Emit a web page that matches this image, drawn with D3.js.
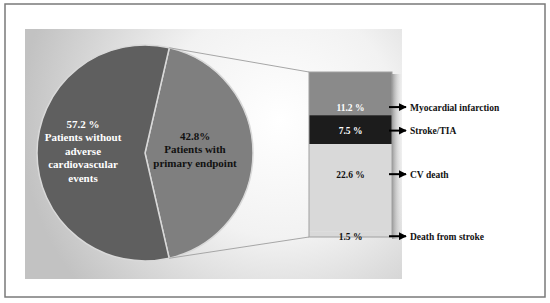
<!DOCTYPE html>
<html>
<head>
<meta charset="utf-8">
<script src="https://cdn.jsdelivr.net/npm/d3@7"></script>
<style>
  body { margin: 0; background: #fff; }
  text { font-family: "Liberation Serif", "DejaVu Serif", serif; font-weight: bold; }
</style>
</head>
<body>
<svg width="550" height="303"></svg>
<script>
// pie slices (right slice first, clockwise from the top)
var pieNames = ["Patients with primary endpoint", "Patients without adverse cardiovascular events"];
var pieValues = [42.8, 57.2];
var pieLines = [["42.8%", "Patients with", "primary endpoint"],
                ["57.2 %", "Patients without", "adverse", "cardiovascular", "events"]];

// breakdown of the primary endpoint (top to bottom)
var barNames = ["Myocardial infarction", "Stroke/TIA", "CV death", "Death from stroke"];
var barValues = [11.2, 7.5, 22.6, 1.5];
var barLabels = ["11.2 %", "7.5 %", "22.6 %", "1.5 %"];
// where each arrow points, in % along the stacked bar
var arrowAt = [9.1, 15.2, 26.5, 42.6];

var svg = d3.select("svg");

// **** frame and background ****
svg.append("rect")
    .attr("x", 5).attr("y", 4).attr("width", 540).attr("height", 293)
    .attr("fill", "#fff").attr("stroke", "#7a7a7a").attr("stroke-width", 1.5);

var defs = svg.append("defs");
var grad = defs.append("radialGradient").attr("id", "bg")
    .attr("gradientUnits", "userSpaceOnUse")
    .attr("cx", 280).attr("cy", 120).attr("r", 260);
grad.append("stop").attr("offset", "0%").attr("stop-color", "#ffffff");
grad.append("stop").attr("offset", "45%").attr("stop-color", "#f2f2f2");
grad.append("stop").attr("offset", "100%").attr("stop-color", "#c2c2c2");

var shadow = defs.append("linearGradient").attr("id", "sh");
shadow.append("stop").attr("offset", "0%").attr("stop-color", "#9a9a9a");
shadow.append("stop").attr("offset", "100%").attr("stop-color", "#d8d8d8").attr("stop-opacity", 0);

svg.append("rect")
    .attr("x", 25).attr("y", 29).attr("width", 377).attr("height", 250)
    .attr("fill", "url(#bg)");

// **** pie ****
var cx = 145, cy = 153, r = 108;
var pieColors = ["#7f7f7f", "#5f5f5f"];
var start = 13 * Math.PI / 180;

var pie = d3.pie().sort(null)
    .startAngle(start).endAngle(start + 2 * Math.PI);
var arcs = pie(pieValues);
var arc = d3.arc().innerRadius(0).outerRadius(r);

var pg = svg.append("g").attr("transform", "translate(" + cx + "," + cy + ")");
pg.selectAll("path")
    .data(arcs)
    .enter()
    .append("path")
    .attr("d", arc)
    .attr("fill", function(d, i) { return pieColors[i]; })
    .attr("stroke", "#d9d9d9")
    .attr("stroke-width", 1.5)
    .attr("stroke-linejoin", "miter");

var labelPos = [[50, -13], [-62, -25]];
var labelColor = ["#111", "#fff"];
pg.selectAll("text.pl")
    .data(arcs)
    .enter()
    .append("text")
    .attr("class", "pl")
    .attr("text-anchor", "middle")
    .attr("font-size", 11)
    .attr("fill", function(d, i) { return labelColor[i]; })
    .each(function(d, i) {
        var t = d3.select(this);
        pieLines[i].forEach(function(line, k) {
            t.append("tspan")
                .attr("x", labelPos[i][0])
                .attr("y", labelPos[i][1] + k * 13.4)
                .text(line);
        });
    });

// **** stacked bar ****
var bx = 309, bw = 83;
var total = d3.sum(barValues);
var yScale = d3.scaleLinear().domain([0, total]).range([72, 237]);
var barColors = ["#8a8a8a", "#1c1c1c", "#d9d9d9", "#d9d9d9"];
var textColors = ["#fff", "#fff", "#111", "#111"];

var cum = 0;
var segs = barValues.map(function(v) {
    var s = { y0: cum, y1: cum + v };
    cum += v;
    return s;
});

// connector lines from pie to bar
var topPt = [cx + r * Math.sin(arcs[0].startAngle), cy - r * Math.cos(arcs[0].startAngle)];
var botPt = [cx + r * Math.sin(arcs[0].endAngle), cy - r * Math.cos(arcs[0].endAngle)];
svg.append("line")
    .attr("x1", topPt[0]).attr("y1", topPt[1])
    .attr("x2", bx).attr("y2", yScale(0))
    .attr("stroke", "#a6a6a6").attr("stroke-width", 1);
svg.append("line")
    .attr("x1", botPt[0]).attr("y1", botPt[1])
    .attr("x2", bx).attr("y2", yScale(total))
    .attr("stroke", "#a6a6a6").attr("stroke-width", 1);

// bar shadow
svg.append("rect")
    .attr("x", bx + bw).attr("y", yScale(0) + 2)
    .attr("width", 10).attr("height", yScale(total) - yScale(0))
    .attr("fill", "url(#sh)");

svg.selectAll("rect.seg")
    .data(segs)
    .enter()
    .append("rect")
    .attr("class", "seg")
    .attr("x", bx)
    .attr("y", function(d) { return yScale(d.y0); })
    .attr("width", bw)
    .attr("height", function(d) { return yScale(d.y1) - yScale(d.y0); })
    .attr("fill", function(d, i) { return barColors[i]; });

svg.append("rect")
    .attr("x", bx).attr("y", yScale(0))
    .attr("width", bw).attr("height", yScale(total) - yScale(0))
    .attr("fill", "none").attr("stroke", "#a0a0a0").attr("stroke-width", 1);

svg.selectAll("text.bl")
    .data(barLabels)
    .enter()
    .append("text")
    .attr("class", "bl")
    .attr("x", bx + bw / 2)
    .attr("y", function(d, i) { return yScale(arrowAt[i]) + 3.5; })
    .attr("text-anchor", "middle")
    .attr("font-size", 9.5)
    .attr("fill", function(d, i) { return textColors[i]; })
    .text(function(d) { return d; });

// arrows and category names
defs.append("marker").attr("id", "arr")
    .attr("viewBox", "0 0 10 10").attr("refX", 9).attr("refY", 5)
    .attr("markerWidth", 4).attr("markerHeight", 4)
    .attr("markerUnits", "strokeWidth")
    .attr("orient", "auto")
    .append("path").attr("d", "M0,0 L10,5 L0,10 Z").attr("fill", "#000");

svg.selectAll("line.ar")
    .data(barNames)
    .enter()
    .append("line")
    .attr("class", "ar")
    .attr("x1", 389).attr("x2", 406)
    .attr("y1", function(d, i) { return yScale(arrowAt[i]); })
    .attr("y2", function(d, i) { return yScale(arrowAt[i]); })
    .attr("stroke", "#000").attr("stroke-width", 2)
    .attr("marker-end", "url(#arr)");

svg.selectAll("text.cat")
    .data(barNames)
    .enter()
    .append("text")
    .attr("class", "cat")
    .attr("x", 410)
    .attr("y", function(d, i) { return yScale(arrowAt[i]) + 3.5; })
    .attr("font-size", 9.5)
    .attr("fill", "#111")
    .text(function(d) { return d; });
</script>
</body>
</html>
